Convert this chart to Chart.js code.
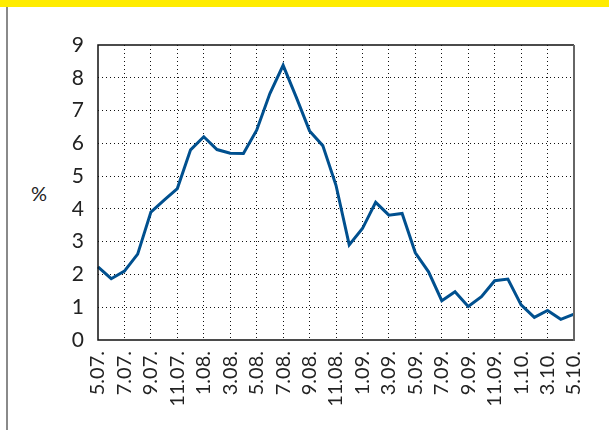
<!DOCTYPE html>
<html>
<head>
<meta charset="utf-8">
<script src="https://cdn.jsdelivr.net/npm/chart.js@4/dist/chart.umd.min.js"></script>
<style>
  html, body { margin: 0; padding: 0; background: #fff; }
  body { width: 609px; height: 430px; position: relative; overflow: hidden; font-family: Lato, "Open Sans", sans-serif; }
  #band { position: absolute; left: 0; top: 0; width: 609px; height: 7px; background: #ffec00; }
  #rule { position: absolute; left: 6px; top: 7px; width: 2px; height: 423px; background: #8a8a8a; }
  #unit { position: absolute; left: 31px; top: 181px; font-size: 20px; color: #222; }
  #wrap { position: absolute; left: 0; top: 0; width: 609px; height: 430px; }
</style>
</head>
<body>
<div id="band"></div>
<div id="rule"></div>
<div id="unit">%</div>
<div id="wrap"><canvas id="chart"></canvas></div>
<script>
// labelled dates (every second point)
const tickDates = ['5.07.', '7.07.', '9.07.', '11.07.', '1.08.', '3.08.', '5.08.', '7.08.', '9.08.', '11.08.',
                   '1.09.', '3.09.', '5.09.', '7.09.', '9.09.', '11.09.', '1.10.', '3.10.', '5.10.'];
const rateValues = [2.23, 1.87, 2.1, 2.62, 3.9, 4.27, 4.62, 5.8, 6.2, 5.81, 5.7, 5.69, 6.4, 7.52, 8.38, 7.4,
                    6.38, 5.93, 4.72, 2.9, 3.4, 4.2, 3.81, 3.86, 2.66, 2.08, 1.2, 1.47, 1.02, 1.32, 1.81, 1.86,
                    1.07, 0.69, 0.9, 0.63, 0.79];
const yTicks = [0, 1, 2, 3, 4, 5, 6, 7, 8, 9];

// one category per point, blank between the labelled dates
const categories = [];
tickDates.forEach((d, i) => {
    categories.push(d);
    if (i < tickDates.length - 1) categories.push('');
});

// solid frame round the plot area (grey on the right like the original)
const frame = {
    id: 'frame',
    afterDatasetsDraw(chart) {
        const a = chart.chartArea;
        const c = chart.ctx;
        c.save();
        c.setLineDash([]);
        c.lineWidth = 1.5;
        c.strokeStyle = '#111';
        c.beginPath();
        c.moveTo(a.right, a.top);
        c.lineTo(a.left, a.top);
        c.lineTo(a.left, a.bottom);
        c.lineTo(a.right, a.bottom);
        c.stroke();
        c.strokeStyle = '#666';
        c.lineWidth = 2;
        c.beginPath();
        c.moveTo(a.right, a.top);
        c.lineTo(a.right, a.bottom + 1);
        c.stroke();
        c.restore();
    }
};

new Chart(document.getElementById('chart').getContext('2d'), {
    type: 'line',
    data: {
        labels: categories,
        datasets: [{
            data: rateValues,
            borderColor: '#00508f',
            borderWidth: 3,
            pointRadius: 0,
            tension: 0,
            fill: false
        }]
    },
    options: {
        responsive: true,
        maintainAspectRatio: false,
        animation: false,
        layout: { padding: { left: 48, top: 45, right: 34, bottom: 0 } },
        plugins: { legend: { display: false }, tooltip: { enabled: false } },
        scales: {
            x: {
                offset: false,
                afterFit(scale) { scale.height = 90; },
                border: { display: false, dash: [1, 3] },
                grid: {
                    drawTicks: false,
                    lineWidth: 1,
                    color: ctx => (ctx.index % 2 === 0 && ctx.index > 0 && ctx.index < categories.length - 1) ? '#111' : 'rgba(0,0,0,0)'
                },
                ticks: {
                    autoSkip: false,
                    maxRotation: 90,
                    minRotation: 90,
                    padding: 11,
                    color: '#222',
                    font: { family: 'Lato', size: 20 }
                }
            },
            y: {
                min: 0,
                max: 9,
                afterFit(scale) { scale.width = 50; },
                afterBuildTicks(scale) { scale.ticks = yTicks.map(v => ({ value: v })); },
                border: { display: false, dash: [1, 3] },
                grid: {
                    drawTicks: false,
                    lineWidth: 1,
                    color: ctx => (ctx.tick && ctx.tick.value > 0 && ctx.tick.value < 9) ? '#111' : 'rgba(0,0,0,0)'
                },
                ticks: {
                    padding: 14,
                    color: '#222',
                    font: { family: 'Lato', size: 21 }
                }
            }
        }
    },
    plugins: [frame]
});
</script>
</body>
</html>
